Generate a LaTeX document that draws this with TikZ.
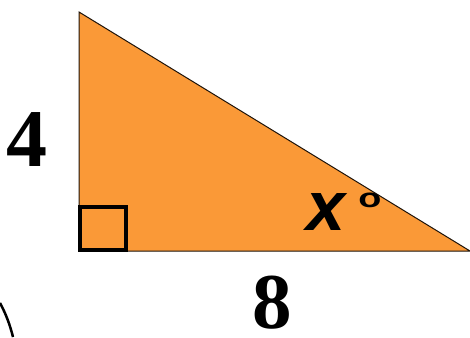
\documentclass[tikz,border=0pt]{standalone}
\usepackage{fontspec}
\setmainfont{Liberation Serif}
\newfontfamily\lsans{Liberation Sans}
\definecolor{tri}{RGB}{250,153,55}
\begin{document}
\begin{tikzpicture}[x=1pt,y=-1pt,
  numlabel/.style={font=\fontsize{82}{82}\selectfont\bfseries, inner sep=0pt, anchor=center},
  anglabel/.style={font=\lsans\fontsize{70}{70}\selectfont\bfseries\itshape, inner sep=0pt},
  degmark/.style={font=\lsans\fontsize{27}{27}\selectfont\bfseries, inner sep=0pt, xscale=1.4}]
\useasboundingbox (0,0) rectangle (470,337);
\coordinate (A) at (79,12);
\coordinate (B) at (79,251);
\coordinate (C) at (470,251);
\fill[tri] (A) -- (B) -- (C) -- cycle;
\draw[line width=1pt, black!85!brown, line join=miter] (A) -- (B) -- (C) -- cycle;
\draw[line width=4pt] (80,207) rectangle (126,250);
\node[numlabel] (four) at (27,140) {4};
\node[numlabel, font=\fontsize{79}{79}\selectfont\bfseries] (eight) at (272,303) {8};
\node[anglabel] (x) at (326,212) {x};
\node[degmark] (deg) at (370,200) {o};
\draw[line width=2.5pt] (0,303) .. controls (6,314) and (10,325) .. (13,337);
\end{tikzpicture}
\end{document}
